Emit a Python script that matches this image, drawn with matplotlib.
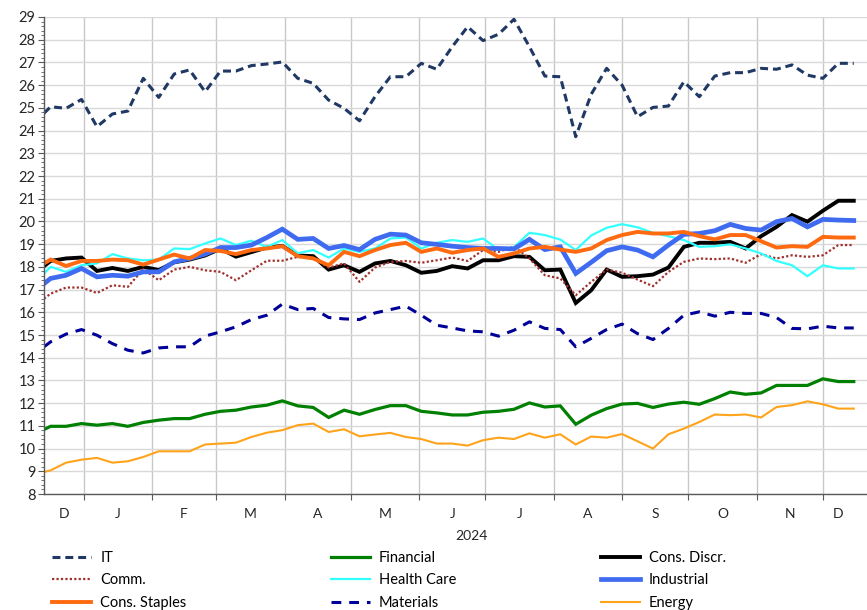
import pandas as pd
import matplotlib
matplotlib.use("Agg")
import matplotlib.pyplot as plt
import matplotlib.dates as mdates
from matplotlib.ticker import MultipleLocator, FixedLocator, FixedFormatter, NullFormatter

plt.rcParams['font.family'] = ['Lato', 'DejaVu Sans']

# weekly observations, Dec 2023 - Dec 2024
dates = pd.to_datetime(["2023-12-14"]).append(pd.date_range("2023-12-17", periods=53, freq="7D"))

it = [24.76, 25.05, 24.98, 25.37, 24.17, 24.73, 24.86, 26.3, 25.46, 26.49,
      26.67, 25.71, 26.62, 26.62, 26.86, 26.93, 27.02, 26.3, 26.08, 25.34,
      24.98, 24.43, 25.49, 26.37, 26.37, 26.96, 26.7, 27.69, 28.57, 27.96,
      28.24, 28.9, 27.69, 26.4, 26.37, 23.73, 25.6, 26.74, 26.0, 24.61,
      25.02, 25.08, 26.15, 25.49, 26.4, 26.55, 26.55, 26.74, 26.7, 26.89,
      26.44, 26.3, 26.96, 26.96]
financial = [10.84, 10.98, 10.98, 11.1, 11.03, 11.1, 10.98, 11.15, 11.25, 11.32,
             11.32, 11.51, 11.64, 11.69, 11.83, 11.91, 12.1, 11.88, 11.81, 11.37,
             11.69, 11.51, 11.72, 11.89, 11.89, 11.64, 11.57, 11.48, 11.48, 11.6,
             11.64, 11.73, 12.01, 11.83, 11.88, 11.07, 11.47, 11.76, 11.96, 11.99,
             11.81, 11.96, 12.04, 11.95, 12.2, 12.49, 12.39, 12.45, 12.78, 12.78,
             12.78, 13.07, 12.95, 12.95]
cons_discr = [18.03, 18.26, 18.37, 18.41, 17.82, 17.95, 17.82, 18.0, 17.86, 18.2,
              18.32, 18.5, 18.8, 18.45, 18.65, 18.85, 18.92, 18.5, 18.47, 17.88,
              18.07, 17.78, 18.15, 18.26, 18.07, 17.74, 17.82, 18.03, 17.93, 18.29,
              18.29, 18.47, 18.44, 17.85, 17.88, 16.41, 16.97, 17.88, 17.56, 17.59,
              17.66, 17.97, 18.88, 19.06, 19.06, 19.1, 18.81, 19.35, 19.76, 20.28,
              19.99, 20.47, 20.91, 20.91]
comm = [16.6, 16.82, 17.09, 17.09, 16.85, 17.19, 17.12, 17.9, 17.41, 17.88,
        18.0, 17.85, 17.78, 17.41, 17.85, 18.27, 18.27, 18.44, 18.4, 17.97,
        18.15, 17.34, 17.97, 18.22, 18.26, 18.18, 18.29, 18.41, 18.26, 18.74,
        18.66, 18.9, 18.37, 17.63, 17.49, 16.75, 17.34, 17.88, 17.74, 17.44,
        17.15, 17.78, 18.22, 18.37, 18.34, 18.37, 18.18, 18.56, 18.37, 18.51,
        18.44, 18.51, 18.96, 18.96]
health_care = [17.71, 18.0, 17.78, 18.07, 18.15, 18.56, 18.37, 18.29, 18.32, 18.81,
               18.78, 19.03, 19.25, 18.96, 19.15, 18.88, 19.18, 18.6, 18.74, 18.41,
               18.81, 18.66, 18.81, 19.25, 19.29, 18.81, 19.06, 19.18, 19.1, 19.25,
               18.75, 18.87, 19.5, 19.4, 19.2, 18.74, 19.38, 19.72, 19.88, 19.74,
               19.5, 19.35, 19.18, 18.88, 18.91, 18.99, 18.81, 18.59, 18.26, 18.07,
               17.59, 18.07, 17.93, 17.93]
industrial = [17.26, 17.49, 17.63, 17.93, 17.56, 17.63, 17.59, 17.78, 17.78, 18.22,
              18.37, 18.56, 18.85, 18.85, 18.96, 19.29, 19.66, 19.21, 19.25, 18.81,
              18.94, 18.76, 19.21, 19.44, 19.4, 19.06, 18.99, 18.91, 18.85, 18.81,
              18.81, 18.79, 19.21, 18.76, 18.88, 17.71, 18.2, 18.71, 18.88, 18.74,
              18.44, 18.96, 19.43, 19.47, 19.59, 19.87, 19.69, 19.62, 19.99, 20.13,
              19.76, 20.09, 20.06, 20.04]
cons_staples = [18.15, 18.32, 18.04, 18.26, 18.26, 18.32, 18.29, 18.1, 18.32, 18.54,
                18.37, 18.74, 18.7, 18.56, 18.74, 18.81, 18.91, 18.47, 18.37, 18.07,
                18.66, 18.47, 18.74, 18.96, 19.06, 18.66, 18.81, 18.62, 18.74, 18.81,
                18.44, 18.59, 18.81, 18.88, 18.76, 18.66, 18.81, 19.18, 19.4, 19.54,
                19.47, 19.47, 19.54, 19.35, 19.21, 19.4, 19.4, 19.13, 18.85, 18.91,
                18.88, 19.32, 19.29, 19.29]
materials = [14.48, 14.7, 15.04, 15.24, 14.99, 14.62, 14.33, 14.21, 14.43, 14.48,
             14.48, 14.95, 15.14, 15.36, 15.68, 15.87, 16.36, 16.12, 16.17, 15.77,
             15.71, 15.68, 15.97, 16.12, 16.27, 15.87, 15.43, 15.31, 15.18, 15.14,
             14.95, 15.21, 15.58, 15.29, 15.24, 14.48, 14.85, 15.24, 15.48, 15.06,
             14.8, 15.29, 15.87, 16.02, 15.83, 16.0, 15.95, 15.95, 15.77, 15.29,
             15.27, 15.39, 15.31, 15.31]
energy = [8.97, 9.04, 9.38, 9.51, 9.59, 9.38, 9.44, 9.63, 9.88, 9.88,
          9.88, 10.18, 10.22, 10.26, 10.51, 10.7, 10.81, 11.03, 11.1, 10.73,
          10.85, 10.54, 10.62, 10.69, 10.51, 10.42, 10.22, 10.22, 10.13, 10.37,
          10.48, 10.42, 10.67, 10.48, 10.63, 10.18, 10.53, 10.48, 10.64, 10.32,
          10.0, 10.63, 10.88, 11.17, 11.5, 11.47, 11.5, 11.37, 11.83, 11.91,
          12.08, 11.95, 11.76, 11.76]

names = ["IT", "Financial", "Cons. Discr.", "Comm.", "Health Care",
         "Industrial", "Cons. Staples", "Materials", "Energy"]
values = [it, financial, cons_discr, comm, health_care,
          industrial, cons_staples, materials, energy]
styles = [
    dict(color="#1F3864", lw=2.2, dashes=(2.6, 1.6)),
    dict(color="#008000", lw=2.3),
    dict(color="#000000", lw=2.8),
    dict(color="#A0302C", lw=1.6, dashes=(1.0, 1.0)),
    dict(color="#33FFFF", lw=1.6),
    dict(color="#3F6BF0", lw=3.4),
    dict(color="#FF6A10", lw=2.8),
    dict(color="#000099", lw=2.2, dashes=(3.2, 2.6)),
    dict(color="#FFA31A", lw=1.5),
]

fig = plt.figure(figsize=(8.67, 6.10), dpi=100)
ax = fig.add_axes([44 / 867, 1 - 494 / 610, 1 - 44 / 867, 477 / 610])

handles = []
for name, vals, st in zip(names, values, styles):
    h, = ax.plot(dates, vals, label=name, solid_joinstyle="miter", **st)
    handles.append(h)

ax.set_ylim(8, 29)
ax.yaxis.set_major_locator(MultipleLocator(1))
ax.yaxis.set_minor_locator(MultipleLocator(0.2))

x0 = mdates.date2num(dates[0])
x1 = mdates.date2num(dates[-1])
ax.set_xlim(x0, x1 + 6)

# month boundaries and centred month letters
starts = pd.date_range("2024-01-01", "2024-12-01", freq="MS")
bounds = [x0] + [mdates.date2num(s) for s in starts] + [x1]
mids = [(a + b) / 2 for a, b in zip(bounds[:-1], bounds[1:])]
month_labels = ["D", "J", "F", "M", "A", "M", "J", "J", "A", "S", "O", "N", "D"]
ax.xaxis.set_major_locator(FixedLocator(bounds[1:-1]))
ax.xaxis.set_major_formatter(NullFormatter())
ax.xaxis.set_minor_locator(FixedLocator(mids))
ax.xaxis.set_minor_formatter(FixedFormatter(month_labels))

ax.tick_params(axis="x", which="major", length=4, color="#595959", direction="out")
ax.tick_params(axis="x", which="minor", length=0, pad=10, labelsize=10, labelcolor="#262626")
ax.tick_params(axis="y", which="major", length=4, color="#595959", labelsize=10.5,
               labelcolor="#262626", pad=2)
ax.tick_params(axis="y", which="minor", length=2.5, color="#595959")

ax.grid(axis="y", which="major", color="#D9D9D9", lw=1)
ax.grid(axis="x", which="major", color="#C8C8C8", lw=1)
ax.set_axisbelow(True)
for s in ["top", "right"]:
    ax.spines[s].set_visible(False)
for s in ["left", "bottom"]:
    ax.spines[s].set_color("#595959")
    ax.spines[s].set_linewidth(1)

fig.text(471 / 867, 1 - 536 / 610, "2024", ha="center", va="center",
         fontsize=10, color="#262626")

order = [0, 3, 6, 1, 4, 7, 2, 5, 8]
fig.legend([handles[i] for i in order], [names[i] for i in order],
           loc="upper left", bbox_to_anchor=(52 / 867, 1 - 557 / 610, 674 / 867, 0.01),
           mode="expand", ncol=3, frameon=False, fontsize=10.5,
           handlelength=2.7, handletextpad=0.6, labelspacing=0.58,
           borderaxespad=0, borderpad=0)

fig.savefig("out.png", dpi=100)
